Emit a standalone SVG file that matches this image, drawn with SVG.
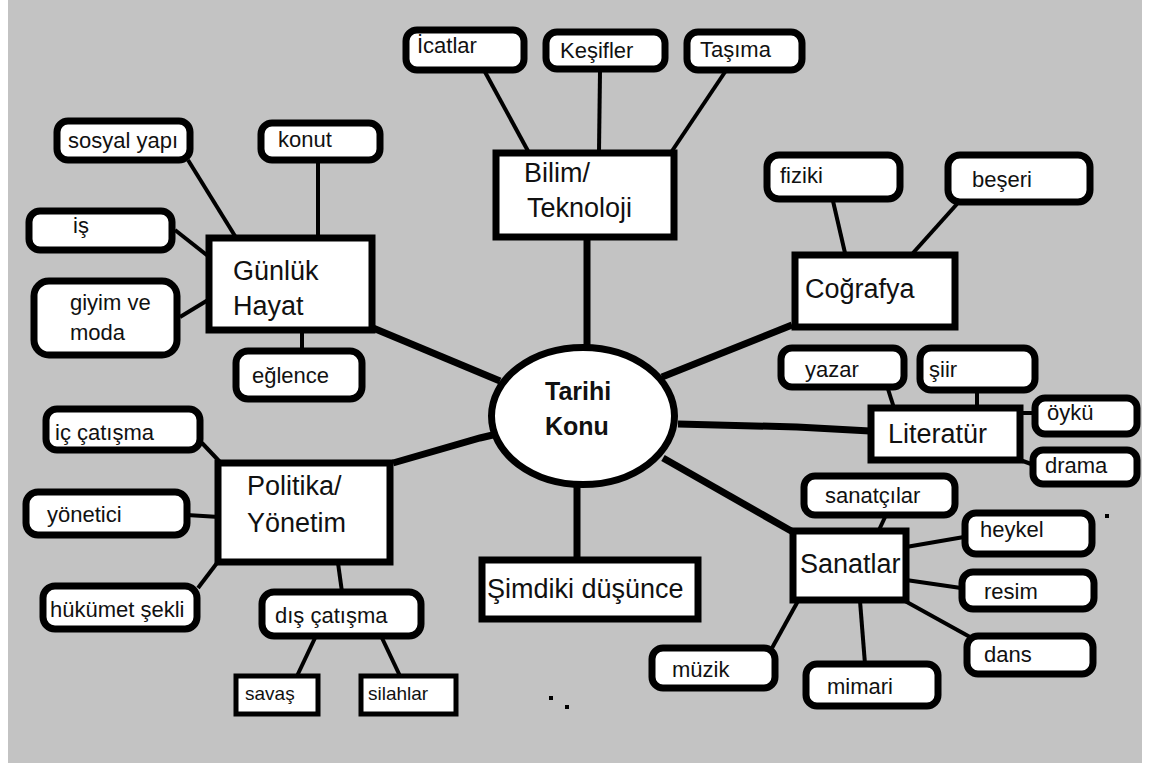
<svg xmlns="http://www.w3.org/2000/svg" width="1152" height="765" viewBox="0 0 1152 765">
<style>
.bg{fill:#c3c3c3}
.rr{fill:#fff;stroke:#000;stroke-width:7}
.sq{fill:#fff;stroke:#000;stroke-width:7}
.sm{fill:#fff;stroke:#000;stroke-width:5}
.main{stroke:#000;stroke-width:7;fill:none;stroke-linecap:butt}
.sub{stroke:#000;stroke-width:4;fill:none}
text{font-family:"Liberation Sans",Arial,sans-serif;fill:#111}
.s{font-size:22px}
.b{font-size:27px}
.t{font-size:19px}
.c{font-size:25px;font-weight:bold}
</style>
<rect x="0" y="0" width="1152" height="765" fill="#fff"/>
<rect class="bg" x="8" y="0" width="1134" height="763"/>
<g id="connectors">
<line class="main" x1="587" y1="240" x2="587" y2="346"/>
<line class="main" x1="373" y1="328" x2="500" y2="381"/>
<line class="main" x1="792" y1="325" x2="662" y2="377"/>
<polyline class="main" points="678,424 797,427 870,431"/>
<polyline class="main" points="393,463 480,438 497,434"/>
<line class="main" x1="663" y1="458" x2="793" y2="532"/>
<line class="main" x1="577" y1="486" x2="577" y2="558"/>
<line class="sub" x1="188" y1="160" x2="235" y2="236"/>
<line class="sub" x1="318" y1="163" x2="318" y2="236"/>
<line class="sub" x1="175" y1="230" x2="208" y2="256"/>
<line class="sub" x1="180" y1="317" x2="208" y2="300"/>
<line class="sub" x1="302" y1="332" x2="302" y2="349"/>
<line class="sub" x1="485" y1="72" x2="528" y2="151"/>
<line class="sub" x1="600" y1="71" x2="599" y2="151"/>
<line class="sub" x1="725" y1="72" x2="672" y2="151"/>
<line class="sub" x1="833" y1="201" x2="845" y2="253"/>
<line class="sub" x1="957" y1="204" x2="913" y2="253"/>
<line class="sub" x1="888" y1="389" x2="894" y2="408"/>
<line class="sub" x1="977" y1="392" x2="977" y2="408"/>
<line class="sub" x1="1020" y1="413" x2="1034" y2="413"/>
<line class="sub" x1="1020" y1="460" x2="1034" y2="465"/>
<line class="sub" x1="886" y1="515" x2="879" y2="530"/>
<line class="sub" x1="906" y1="547" x2="964" y2="537"/>
<line class="sub" x1="906" y1="580" x2="961" y2="588"/>
<line class="sub" x1="905" y1="601" x2="970" y2="637"/>
<line class="sub" x1="798" y1="601" x2="772" y2="648"/>
<line class="sub" x1="860" y1="601" x2="865" y2="664"/>
<line class="sub" x1="202" y1="443" x2="220" y2="462"/>
<line class="sub" x1="187" y1="515" x2="219" y2="517"/>
<line class="sub" x1="198" y1="588" x2="217" y2="563"/>
<line class="sub" x1="338" y1="563" x2="342" y2="592"/>
<line class="sub" x1="315" y1="638" x2="297" y2="676"/>
<line class="sub" x1="382" y1="638" x2="400" y2="676"/>
</g>
<g id="n-center"><ellipse cx="583" cy="416" rx="91.5" ry="68.5" fill="#fff" stroke="#000" stroke-width="7"/><text class="c" x="545" y="400">Tarihi</text><text class="c" x="545" y="435">Konu</text></g>
<g id="n-gunluk"><rect class="sq" x="209" y="238" width="163" height="92"/><text class="b" x="233" y="280">Günlük</text><text class="b" x="233" y="315">Hayat</text></g>
<g id="n-sosyal"><rect class="rr" x="57" y="121" width="133" height="39" rx="11"/><text class="s" x="68" y="148">sosyal yapı</text></g>
<g id="n-konut"><rect class="rr" x="261" y="123" width="119" height="37" rx="11"/><text class="s" x="278" y="147">konut</text></g>
<g id="n-is"><rect class="rr" x="29" y="211" width="143" height="39" rx="11"/><text class="s" x="73" y="233">iş</text></g>
<g id="n-giyim"><rect class="rr" x="34" y="281" width="143" height="74" rx="15"/><text class="s" x="70" y="310">giyim ve</text><text class="s" x="70" y="340">moda</text></g>
<g id="n-eglence"><rect class="rr" x="236" y="351" width="126" height="48" rx="12"/><text class="s" x="252" y="383">eğlence</text></g>
<g id="n-bilim"><rect class="sq" x="496" y="153" width="178" height="84"/><text class="b" x="524" y="182">Bilim/</text><text class="b" x="527" y="217">Teknoloji</text></g>
<g id="n-icatlar"><rect class="rr" x="406" y="30" width="118" height="40" rx="11"/><text class="s" x="417" y="53">İcatlar</text></g>
<g id="n-kesifler"><rect class="rr" x="546" y="32" width="119" height="37" rx="11"/><text class="s" x="560" y="58">Keşifler</text></g>
<g id="n-tasima"><rect class="rr" x="687" y="32" width="115" height="38" rx="11"/><text class="s" x="700" y="57">Taşıma</text></g>
<g id="n-cografya"><rect class="sq" x="795" y="255" width="160" height="72"/><text class="b" x="805" y="298">Coğrafya</text></g>
<g id="n-fiziki"><rect class="rr" x="767" y="155" width="133" height="44" rx="12"/><text class="s" x="780" y="183">fiziki</text></g>
<g id="n-beseri"><rect class="rr" x="948" y="155" width="142" height="47" rx="12"/><text class="s" x="972" y="187">beşeri</text></g>
<g id="n-literatur"><rect class="sq" x="871" y="408" width="149" height="52"/><text class="b" x="888" y="443">Literatür</text></g>
<g id="n-yazar"><rect class="rr" x="781" y="348" width="123" height="39" rx="11"/><text class="s" x="805" y="377">yazar</text></g>
<g id="n-siir"><rect class="rr" x="920" y="348" width="115" height="42" rx="11"/><text class="s" x="929" y="377">şiir</text></g>
<g id="n-oyku"><rect class="rr" x="1035" y="398" width="102" height="36" rx="10"/><text class="s" x="1047" y="420">öykü</text></g>
<g id="n-drama"><rect class="rr" x="1033" y="450" width="104" height="34" rx="10"/><text class="s" x="1045" y="473">drama</text></g>
<g id="n-sanatlar"><rect class="sq" x="793" y="531" width="113" height="69"/><text class="b" x="800" y="573">Sanatlar</text></g>
<g id="n-sanatcilar"><rect class="rr" x="804" y="476" width="151" height="39" rx="11"/><text class="s" x="825" y="503">sanatçılar</text></g>
<g id="n-heykel"><rect class="rr" x="965" y="513" width="127" height="41" rx="11"/><text class="s" x="980" y="537">heykel</text></g>
<g id="n-resim"><rect class="rr" x="962" y="572" width="132" height="37" rx="11"/><text class="s" x="984" y="599">resim</text></g>
<g id="n-dans"><rect class="rr" x="967" y="636" width="126" height="38" rx="11"/><text class="s" x="984" y="662">dans</text></g>
<g id="n-muzik"><rect class="rr" x="652" y="648" width="123" height="40" rx="11"/><text class="s" x="672" y="677">müzik</text></g>
<g id="n-mimari"><rect class="rr" x="806" y="664" width="132" height="42" rx="11"/><text class="s" x="827" y="694">mimari</text></g>
<g id="n-simdiki"><rect class="sq" x="482" y="560" width="216" height="59"/><text class="b" x="487" y="598">Şimdiki düşünce</text></g>
<g id="n-politika"><rect class="sq" x="218" y="463" width="172" height="99"/><text class="b" x="247" y="495">Politika/</text><text class="b" x="247" y="532">Yönetim</text></g>
<g id="n-ic"><rect class="rr" x="46" y="409" width="154" height="41" rx="11"/><text class="s" x="55" y="440">iç çatışma</text></g>
<g id="n-yonetici"><rect class="rr" x="26" y="492" width="161" height="43" rx="12"/><text class="s" x="47" y="522">yönetici</text></g>
<g id="n-hukumet"><rect class="rr" x="43" y="586" width="154" height="43" rx="12"/><text class="s" x="50" y="617">hükümet şekli</text></g>
<g id="n-dis"><rect class="rr" x="262" y="592" width="159" height="44" rx="12"/><text class="s" x="275" y="623">dış çatışma</text></g>
<g id="n-savas"><rect class="sm" x="236" y="676" width="82" height="38"/><text class="t" x="245" y="700">savaş</text></g>
<g id="n-silahlar"><rect class="sm" x="361" y="676" width="95" height="38"/><text class="t" x="368" y="700">silahlar</text></g>
<g id="dots" fill="#000"><rect x="549" y="696" width="4" height="4"/><rect x="565" y="705" width="4" height="4"/><rect x="1105" y="514" width="4" height="4"/></g>
</svg>
